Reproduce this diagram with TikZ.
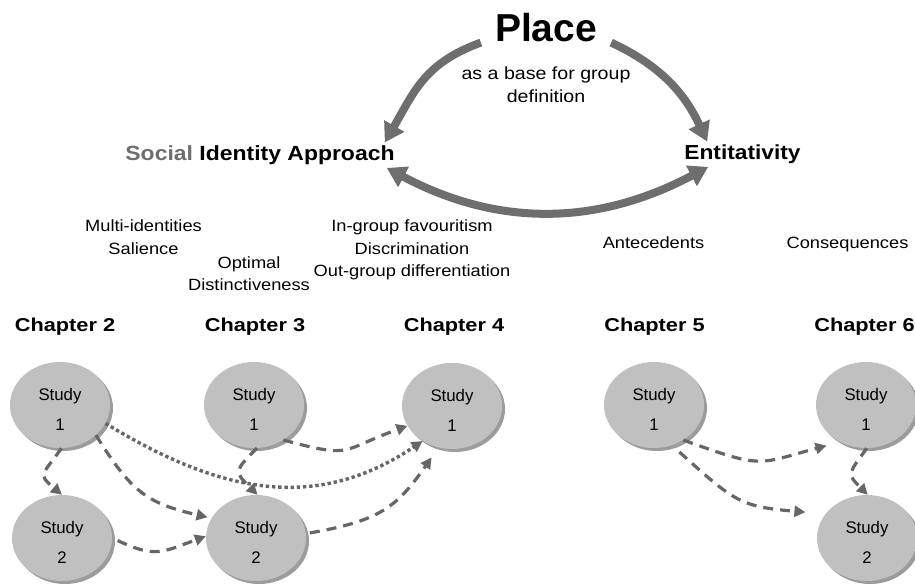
\documentclass[tikz,border=0pt]{standalone}
\usepackage{fontspec}
\setmainfont{Liberation Sans}
\newfontfamily\widesans{Liberation Sans}[FakeStretch=1.12]
\newfontfamily\chapsans{Liberation Sans}[FakeStretch=1.17]
\usetikzlibrary{arrows.meta,shapes.geometric,shadows}
\definecolor{discfill}{HTML}{C0C0C0}
\definecolor{discshade}{HTML}{9C9C9C}
\definecolor{linkgray}{HTML}{666666}
\definecolor{bigarrowgray}{HTML}{6E6E6E}
\definecolor{softtext}{HTML}{6E6E6E}
\begin{document}
\begin{tikzpicture}[x=1pt,y=1pt,
  study/.style={ellipse, minimum width=100pt, minimum height=86pt, inner sep=0pt,
    fill=discfill, align=center, font=\fontsize{16.8}{29.5}\selectfont,
    drop shadow={shadow xshift=3pt, shadow yshift=-3pt, fill=discshade, opacity=1}},
  link/.style={draw=linkgray, line width=3.2pt, dash pattern=on 10pt off 7pt,
    -{Triangle[length=11pt,width=11pt]}},
  dotlink/.style={draw=linkgray, line width=3.4pt, dash pattern=on 3.4pt off 2.8pt,
    -{Triangle[length=11pt,width=11pt]}},
  bigarrow/.style={draw=bigarrowgray, line width=8pt,
    -{Triangle[length=19pt,width=22pt]}},
  bigboth/.style={draw=bigarrowgray, line width=8pt,
    {Triangle[length=19pt,width=22pt]}-{Triangle[length=19pt,width=22pt]}},
  chap/.style={anchor=base, inner sep=0pt, font=\chapsans\bfseries\fontsize{18.6}{22}\selectfont},
  topic/.style={align=center, inner sep=0pt, font=\widesans\fontsize{16.3}{22.3}\selectfont},
  headline/.style={anchor=base, inner sep=3pt, font=\widesans\bfseries\fontsize{20.5}{24}\selectfont}
]
\useasboundingbox (0,0) rectangle (915,-586);

% title and the two theory headings
\node[anchor=base, inner xsep=14pt, inner ysep=0pt, font=\bfseries\fontsize{39}{40}\selectfont]
  (place) at (546,-42) {Place};
\node[anchor=north, align=center, inner sep=0pt, font=\widesans\fontsize{17.5}{23}\selectfont]
  (basefor) at (546,-66.5) {as a base for group\\definition};
\node[headline] (sia) at (260,-160.5) {\textcolor{softtext}{Social} Identity Approach};
\node[headline, font=\widesans\bfseries\fontsize{20.3}{24}\selectfont] (ent) at (742.5,-159.5) {Entitativity};

% curved arrows linking place and the two approaches
\draw[bigarrow] (place.south west) to[out=200, in=60, looseness=1.1] ([xshift=-13pt]sia.north east);
\draw[bigarrow] (place.south east) to[out=-25, in=115] ([xshift=26pt]ent.north west);
\draw[bigboth] ([xshift=-11pt]sia.south east) to[out=-28, in=208] ([xshift=27pt]ent.south west);

% topics
\node[topic, anchor=north] (multi) at (143.5,-219.9) {Multi-identities\\Salience};
\node[topic, anchor=north] (optimal) at (249,-256.4) {Optimal\\Distinctiveness};
\node[topic, anchor=north] (ingroup) at (412,-219.8) {In-group favouritism\\Discrimination\\Out-group differentiation};
\node[topic, anchor=base] (ante) at (653.5,-248) {Antecedents};
\node[topic, anchor=base] (cons) at (847.5,-248) {Consequences};

% chapter headings
\node[chap] (ch2) at (65,-331.7) {Chapter 2};
\node[chap] (ch3) at (255,-331.7) {Chapter 3};
\node[chap] (ch4) at (454,-331.7) {Chapter 4};
\node[chap] (ch5) at (654.5,-331.7) {Chapter 5};
\node[chap] (ch6) at (864.5,-331.7) {Chapter 6};

% studies
\node[study] (c2s1) at (60,-405) {\rule{0pt}{21pt}Study\\1};
\node[study] (c2s2) at (62,-538) {\rule{0pt}{21pt}Study\\2};
\node[study] (c3s1) at (254,-405) {\rule{0pt}{21pt}Study\\1};
\node[study] (c3s2) at (256,-538) {\rule{0pt}{21pt}Study\\2};
\node[study] (c4s1) at (452,-406) {\rule{0pt}{21pt}Study\\1};
\node[study] (c5s1) at (654,-405) {\rule{0pt}{21pt}Study\\1};
\node[study] (c6s1) at (866,-405) {\rule{0pt}{21pt}Study\\1};
\node[study] (c6s2) at (867,-538) {\rule{0pt}{21pt}Study\\2};

% links between studies
\draw[link] (c2s1.-88) to[out=235, in=140, looseness=1.8] (c2s2.90);
\draw[link, shorten >=4pt] (c2s1.-40) to[out=-58, in=167, looseness=1.2] (c3s2.156);
\draw[dotlink] (c2s1.-22) .. controls +(110,-67) and +(-110,-74) .. (c4s1.230);
\draw[link, shorten <=6pt] (c2s2.east) to[out=-25, in=200, looseness=1.3] (c3s2.178);
\draw[link] (c3s1.-86) to[out=225, in=135, looseness=1.8] (c3s2.88);
\draw[link] (c3s1.-50) to[out=-15, in=200, looseness=1.5] (c4s1.204);
\draw[link, shorten <=4pt, shorten >=12pt] (c3s2.5) to[out=10, in=235, looseness=1.2] (c4s1.252);
\draw[link, shorten >=14pt] (c5s1.-50) to[out=-20, in=195, looseness=1.4] (c6s1.235);
\draw[link, shorten <=10pt, shorten >=20pt] (c5s1.-66) to[out=-42, in=175, looseness=1.3] (c6s2.150);
\draw[link] (c6s1.-89) to[out=235, in=135, looseness=1.7] (c6s2.89);
\end{tikzpicture}
\end{document}
